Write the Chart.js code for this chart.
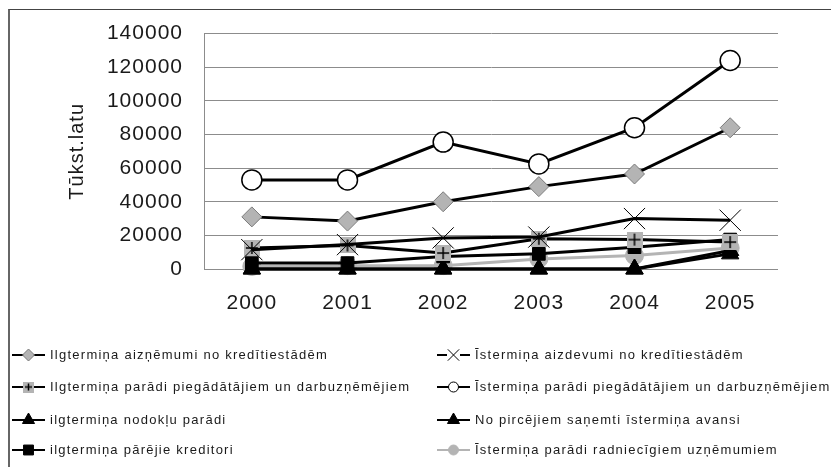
<!DOCTYPE html>
<html>
<head>
<meta charset="utf-8">
<script src="https://cdn.jsdelivr.net/npm/chart.js@4.4.0/dist/chart.umd.min.js"></script>
<style>
  html, body { margin: 0; padding: 0; background: #fff; overflow: hidden; }
  #wrap { position: relative; width: 831px; height: 467px; }
  #frame { position: absolute; left: 8px; top: 9px; width: 900px; height: 600px;
           border-top: 1px solid #444; border-left: 2px solid #666; }
  #grafiks { position: absolute; left: 0; top: 0; }
</style>
</head>
<body>
<div id="wrap">
  <div id="frame"></div>
  <canvas id="grafiks" width="831" height="467"></canvas>
</div>
<script>
const gadi = ['2000', '2001', '2002', '2003', '2004', '2005'];

const ilgtAiznemumi = [31000, 28500, 40000, 49000, 56500, 84000];
const istAizdevumi = [11500, 14500, 18500, 19000, 30000, 29000];
const ilgtPiegadatajiem = [12500, 14000, 9500, 18000, 17500, 16000];
const istPiegadatajiem = [53000, 53000, 75500, 62500, 84000, 124000];
const ilgtNodokli = [0, 0, 0, 0, 0, 9000];
const avansi = [0, 0, 0, 0, 0, 11000];
const ilgtParejie = [3500, 3500, 7500, 9000, 13000, 17500];
const istRadniecigiem = [1500, 2000, 2000, 6000, 8000, 12500];

const nosaukumi = [
    'Ilgtermiņa aizņēmumi no kredītiestādēm',
    'Īstermiņa aizdevumi no kredītiestādēm',
    'Ilgtermiņa parādi piegādātājiem un darbuzņēmējiem',
    'Īstermiņa parādi piegādātājiem un darbuzņēmējiem',
    'ilgtermiņa nodokļu parādi',
    'No pircējiem saņemti īstermiņa avansi',
    'ilgtermiņa pārējie kreditori',
    'Īstermiņa parādi radniecīgiem uzņēmumiem'
];

const peleks = '#b4b4b4';
const rezgis = '#8c8c8c';
const fonts = '"Liberation Sans", Arial, sans-serif';

// pelēks kvadrāts ar melnu krustiņu
function krustaKvadrats(izm) {
    const c = document.createElement('canvas');
    c.width = izm; c.height = izm;
    const g = c.getContext('2d');
    g.fillStyle = peleks;
    g.fillRect(0, 0, izm, izm);
    g.strokeStyle = '#000';
    g.lineWidth = 1.5;
    g.beginPath();
    g.moveTo(izm / 2, 2); g.lineTo(izm / 2, izm - 2);
    g.moveTo(2, izm / 2); g.lineTo(izm - 2, izm / 2);
    g.stroke();
    return c;
}
const krusts = krustaKvadrats(16);
const krustsMazs = krustaKvadrats(11);

function serija(label, data, stils, opts) {
    return Object.assign({
        label: label,
        data: data,
        borderColor: '#000',
        borderWidth: 3,
        tension: 0,
        clip: false,
        pointStyle: stils,
        pointRadius: 10,
        pointHoverRadius: 10,
        pointBackgroundColor: '#000',
        pointBorderColor: '#000',
        pointBorderWidth: 1
    }, opts);
}

const datasets = [
    serija(nosaukumi[0], ilgtAiznemumi, 'rectRot', { pointBackgroundColor: peleks, pointBorderColor: '#7a7a7a', legendR: 6 }),
    serija(nosaukumi[1], istAizdevumi, 'crossRot', { pointRadius: 15, pointHoverRadius: 15, legendR: 8 }),
    serija(nosaukumi[2], ilgtPiegadatajiem, krusts, { legendImg: krustsMazs }),
    serija(nosaukumi[3], istPiegadatajiem, 'circle', { pointBackgroundColor: '#fff', pointBorderWidth: 1.5, legendR: 5 }),
    serija(nosaukumi[4], ilgtNodokli, 'triangle', { legendR: 7 }),
    serija(nosaukumi[5], avansi, 'triangle', { legendR: 7 }),
    serija(nosaukumi[6], ilgtParejie, 'rect', { pointRadius: 9, legendR: 7 }),
    serija(nosaukumi[7], istRadniecigiem, 'circle', { borderColor: peleks, pointBackgroundColor: peleks, pointBorderColor: peleks, pointRadius: 9, legendR: 5 })
];

// nedaudz retināts teksts asu iedaļām
const retinats = {
    id: 'retinats',
    beforeUpdate(chart) {
        chart.ctx.letterSpacing = '1px';
    }
};

// leģenda divās kolonnās zem grafika
const divkolonnuLegenda = {
    id: 'divkolonnuLegenda',
    afterDraw(chart) {
        const ctx = chart.ctx;
        const rindas = [355, 387, 420, 450];
        const kolonnas = [12, 437];
        ctx.save();
        chart.data.datasets.forEach((ds, i) => {
            const x0 = kolonnas[i % 2];
            const y = rindas[Math.floor(i / 2)];
            ctx.strokeStyle = ds.borderColor;
            ctx.lineWidth = 2;
            ctx.beginPath();
            ctx.moveTo(x0, y);
            ctx.lineTo(x0 + 33, y);
            ctx.stroke();
            if (ds.pointStyle === 'crossRot') {
                ctx.fillStyle = '#fff';
                ctx.fillRect(x0 + 10, y - 6, 13, 12);
            }
            ctx.fillStyle = ds.pointBackgroundColor;
            ctx.strokeStyle = ds.pointBorderColor;
            ctx.lineWidth = 1;
            Chart.helpers.drawPoint(ctx, {
                pointStyle: ds.legendImg || ds.pointStyle,
                radius: ds.legendR || 6,
                rotation: 0,
                borderWidth: 1
            }, x0 + 16.5, y);
            ctx.fillStyle = '#1a1a1a';
            ctx.font = '13px ' + fonts;
            ctx.letterSpacing = '1.25px';
            ctx.textBaseline = 'middle';
            ctx.textAlign = 'left';
            ctx.fillText(ds.label, x0 + 38, y);
        });
        ctx.restore();
    }
};

new Chart('grafiks', {
    type: 'line',
    data: {
        labels: gadi,
        datasets: datasets
    },
    options: {
        responsive: false,
        animation: false,
        devicePixelRatio: 1,
        layout: {
            padding: { left: 61, right: 53, top: 31, bottom: 137 }
        },
        plugins: {
            legend: { display: false },
            tooltip: { enabled: false }
        },
        scales: {
            x: {
                offset: true,
                grid: { display: false, drawTicks: false },
                border: { display: false },
                ticks: {
                    color: '#1a1a1a',
                    padding: 22,
                    font: { family: fonts, size: 21 }
                },
                afterFit: scale => { scale.height = 61; }
            },
            y: {
                min: 0,
                max: 140000,
                grid: { color: rezgis, lineWidth: 1, drawTicks: false },
                border: { display: true, color: rezgis, width: 1 },
                ticks: {
                    stepSize: 20000,
                    color: '#1a1a1a',
                    padding: 21,
                    font: { family: fonts, size: 21 },
                    callback: v => String(v)
                },
                title: {
                    display: true,
                    text: 'Tūkst.latu',
                    color: '#1a1a1a',
                    font: { family: fonts, size: 20 }
                },
                afterFit: scale => { scale.width = 143; }
            }
        }
    },
    plugins: [retinats, divkolonnuLegenda]
});
</script>
</body>
</html>
